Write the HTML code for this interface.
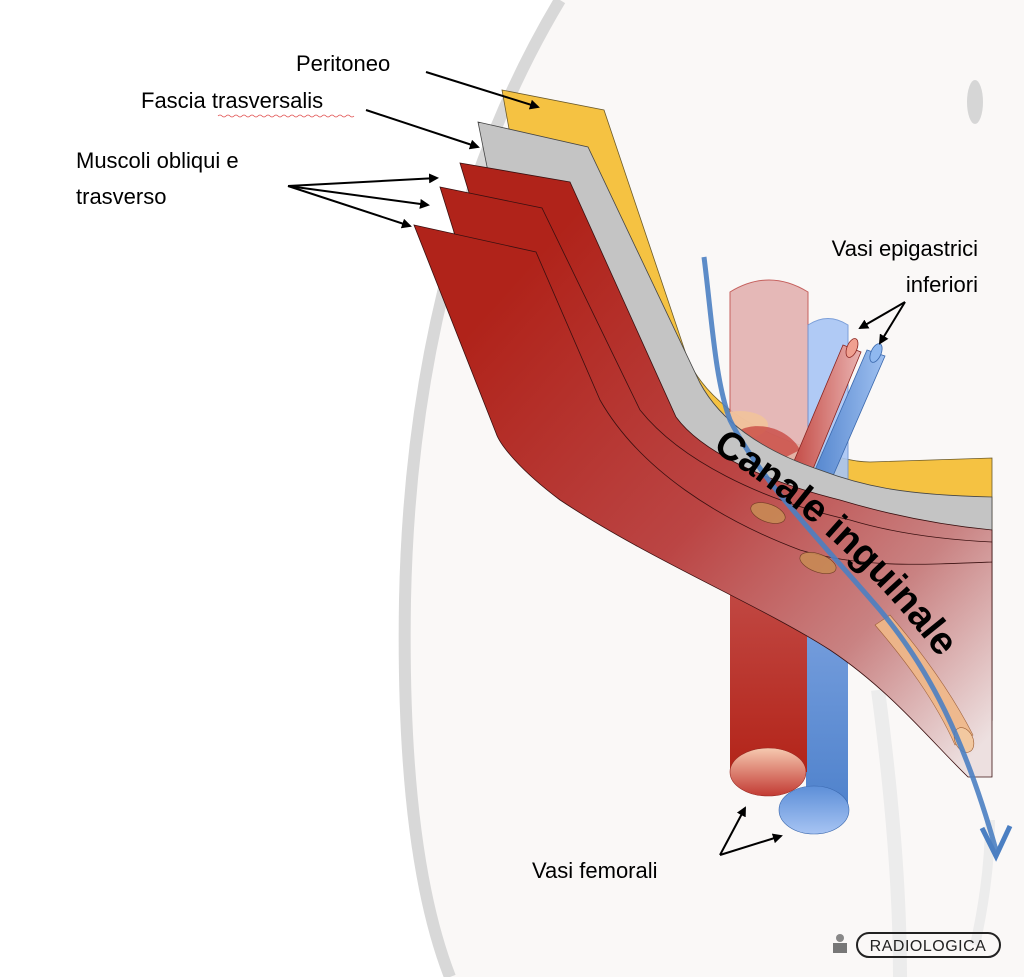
<!DOCTYPE html>
<html><head><meta charset="utf-8"><style>
html,body{margin:0;padding:0;background:#fff;}
svg{display:block;}
text{font-family:"Liberation Sans",sans-serif;}
</style></head><body>
<svg width="1024" height="977" viewBox="0 0 1024 977" xmlns="http://www.w3.org/2000/svg">
<defs>
<linearGradient id="rg" gradientUnits="userSpaceOnUse" x1="470" y1="330" x2="960" y2="770">
<stop offset="0" stop-color="#b0231a"/><stop offset="0.45" stop-color="#bb4544"/><stop offset="0.75" stop-color="#c98282"/><stop offset="1" stop-color="#ede0e0"/>
</linearGradient>
<linearGradient id="art" x1="0" y1="0" x2="0" y2="1"><stop offset="0" stop-color="#c85a58"/><stop offset="1" stop-color="#b32419"/></linearGradient>
<linearGradient id="vein" x1="0" y1="0" x2="0" y2="1"><stop offset="0" stop-color="#8fb0e8"/><stop offset="1" stop-color="#4f82cc"/></linearGradient>
<linearGradient id="ae" x1="0" y1="0" x2="0" y2="1"><stop offset="0" stop-color="#f6c9b0"/><stop offset="1" stop-color="#c23a33"/></linearGradient>
<linearGradient id="ve" x1="0" y1="0" x2="0" y2="1"><stop offset="0" stop-color="#5d8fd8"/><stop offset="1" stop-color="#a7c4f3"/></linearGradient>
<linearGradient id="er" x1="0" y1="0" x2="1" y2="0"><stop offset="0" stop-color="#c0413b"/><stop offset="1" stop-color="#e9b2b0"/></linearGradient>
<linearGradient id="eb" x1="0" y1="0" x2="1" y2="0"><stop offset="0" stop-color="#4f82cc"/><stop offset="1" stop-color="#9fc0f0"/></linearGradient>
<marker id="ah" markerWidth="10" markerHeight="10" refX="8" refY="5" orient="auto" markerUnits="userSpaceOnUse"><path d="M0,0 L10,5 L0,10 Z" fill="#000"/></marker>
</defs>
<path d="M560,0 C470,150 410,350 405,600 C402,780 420,900 450,977 L1024,977 L1024,0 Z" fill="#faf8f7"/>
<path d="M560,0 C470,150 410,350 405,600 C402,780 420,900 450,977" fill="none" stroke="#d8d8d8" stroke-width="12"/>
<path d="M878,690 C890,780 900,880 900,977" fill="none" stroke="#ececec" stroke-width="14"/>
<path d="M975,945 C985,900 990,860 990,820" fill="none" stroke="#ececec" stroke-width="10"/>
<ellipse cx="975" cy="102" rx="8" ry="22" fill="#d6d6d6"/>
<!-- yellow -->
<path d="M502,90 L604,110 L688,360 C705,395 740,425 800,445 C830,455 850,462 870,462 L992,458 L992,600 L700,480 L540,300 Z" fill="#f5c242" stroke="#6b5a2a" stroke-width="0.8"/>
<path d="M730,520 L730,292 Q769,268 808,292 L808,520 Z" fill="#e3b2b1" stroke="#c0504d" stroke-width="1" opacity="0.9"/>
<path d="M808,520 L808,325 Q828,312 848,325 L848,520 Z" fill="#a8c6f5" stroke="#6f96d6" stroke-width="1" opacity="0.9"/>
<ellipse cx="740" cy="425" rx="28" ry="14" fill="#f2c39a" opacity="0.85"/>
<path d="M740,430 C760,420 790,430 800,450 L760,470 Z" fill="#c94a43" opacity="0.8"/>
<path d="M786,480 L843,345 L861,352 L806,486 Z" fill="url(#er)" stroke="#8a2420" stroke-width="0.8"/>
<ellipse cx="852" cy="348" rx="10" ry="5" transform="rotate(-68 852 348)" fill="#f0a090" stroke="#8a2420" stroke-width="0.8"/>
<path d="M808,486 L867,350 L885,356 L826,492 Z" fill="url(#eb)" stroke="#3a68ad" stroke-width="0.8"/>
<ellipse cx="876" cy="353" rx="10" ry="5" transform="rotate(-66 876 353)" fill="#8fb8ef" stroke="#3a68ad" stroke-width="0.8"/>
<rect x="806" y="500" width="42" height="310" fill="url(#vein)"/>
<rect x="730" y="500" width="77" height="272" fill="url(#art)"/>
<!-- gray -->
<path d="M478,122 L588,147 L700,383 C720,420 760,450 820,470 C860,485 900,495 992,497 L992,650 L700,520 L520,330 Z" fill="#c4c4c4" stroke="#444" stroke-width="0.8"/>
<!-- red layers -->
<path d="M460,163 L570,182 L676,417 C700,450 760,480 840,500 C890,515 940,525 992,530 L992,700 L700,540 L520,360 Z" fill="url(#rg)" stroke="#3a1010" stroke-width="0.8"/>
<path d="M440,187 L542,208 L640,410 C680,460 760,500 850,520 C900,535 950,540 992,542 L992,720 L700,550 L500,380 Z" fill="url(#rg)" stroke="#3a1010" stroke-width="0.8"/>
<path d="M414,225 L536,252 L600,400 C640,470 720,520 800,550 C860,568 920,565 992,562 L992,777 L968,777 C930,740 890,690 830,650 C760,605 650,560 560,500 C520,470 500,445 496,433 Z" fill="url(#rg)" stroke="#3a1010" stroke-width="0.8"/>
<ellipse cx="768" cy="513" rx="18" ry="9" transform="rotate(20 768 513)" fill="#c88a55" stroke="#6b3a20" stroke-width="0.6" opacity="0.9"/>
<ellipse cx="818" cy="563" rx="19" ry="9" transform="rotate(20 818 563)" fill="#c88a55" stroke="#6b3a20" stroke-width="0.6" opacity="0.9"/>
<path d="M875,625 C905,660 935,700 955,745 L973,735 C950,690 920,650 890,615 Z" fill="#f0b888" stroke="#9a5a30" stroke-width="0.6" opacity="0.9"/>
<ellipse cx="964" cy="740" rx="9" ry="13" transform="rotate(-25 964 740)" fill="#f2c8a0" stroke="#9a5a30" stroke-width="0.6"/>
<ellipse cx="814" cy="810" rx="35" ry="24" fill="url(#ve)" stroke="#3a68ad" stroke-width="0.6"/>
<ellipse cx="768" cy="772" rx="38" ry="24" fill="url(#ae)" stroke="#9a2a22" stroke-width="0.6"/>
<path d="M704,257 C712,320 715,380 730,420 C760,480 820,540 880,610 C930,670 965,740 996,850" fill="none" stroke="#4b7fc2" stroke-width="5" opacity="0.9"/>
<path d="M982,828 L996,856 L1010,826" fill="none" stroke="#4b7fc2" stroke-width="5"/>
<path id="cp" d="M712,450 C800,505 890,580 980,715" fill="none"/>
<text font-size="39" font-weight="bold" fill="#000"><textPath href="#cp">Canale inguinale</textPath></text>
<g font-size="22" fill="#000">
<text x="296" y="71">Peritoneo</text>
<text x="141" y="108">Fascia trasversalis</text>
<text x="76" y="168">Muscoli obliqui e</text>
<text x="76" y="204">trasverso</text>
<text x="978" y="256" text-anchor="end">Vasi epigastrici</text>
<text x="978" y="292" text-anchor="end">inferiori</text>
<text x="532" y="878">Vasi femorali</text>
</g>
<path d="M218,116 q2,-2 4,0 t4,0 t4,0 t4,0 t4,0 t4,0 t4,0 t4,0 t4,0 t4,0 t4,0 t4,0 t4,0 t4,0 t4,0 t4,0 t4,0 t4,0 t4,0 t4,0 t4,0 t4,0 t4,0 t4,0 t4,0 t4,0 t4,0 t4,0 t4,0 t4,0 t4,0 t4,0 t4,0 t4,0" fill="none" stroke="#e05050" stroke-width="0.8"/>
<g stroke="#000" stroke-width="2" fill="none" marker-end="url(#ah)">
<line x1="426" y1="72" x2="538" y2="107"/>
<line x1="366" y1="110" x2="478" y2="147"/>
<line x1="288" y1="186" x2="437" y2="178"/>
<line x1="288" y1="186" x2="428" y2="205"/>
<line x1="288" y1="186" x2="410" y2="226"/>
<line x1="905" y1="302" x2="860" y2="328"/>
<line x1="905" y1="302" x2="880" y2="343"/>
<line x1="720" y1="855" x2="745" y2="808"/>
<line x1="720" y1="855" x2="781" y2="836"/>
</g>
<g>
<circle cx="840" cy="938" r="4" fill="#888"/>
<rect x="833" y="943" width="14" height="10" fill="#777"/>
<rect x="857" y="933" width="143" height="24" rx="12" fill="none" stroke="#222" stroke-width="2"/>
<text x="928" y="951" font-size="16" text-anchor="middle" fill="#222" letter-spacing="0.5">RADIOLOGICA</text>
</g>
</svg>
</body></html>
